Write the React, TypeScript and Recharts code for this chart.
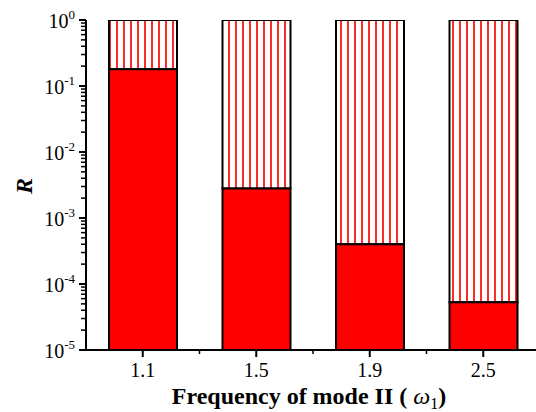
import React from "react";
import { Bar, BarChart, XAxis, YAxis, Label } from "recharts";

// frequency of mode II (omega_1)
const categories = ["1.1", "1.5", "1.9", "2.5"];
// R (top of the solid part)
const solidTop = [0.18, 0.0028, 0.0004, 0.000053];
const axisMin = 1e-5;
const axisMax = 1;
const decadeExponents = [-5, -4, -3, -2, -1, 0];
const minorMultipliers = [2, 3, 4, 5, 6, 7, 8, 9];

const data = categories.map((freq, i) => ({
  freq,
  solid: [axisMin, solidTop[i]],
  hatched: [solidTop[i], axisMax],
}));

const yTicks: number[] = [];
decadeExponents.forEach((e) => {
  yTicks.push(Math.pow(10, e));
  if (e < 0) minorMultipliers.forEach((m) => yTicks.push(m * Math.pow(10, e)));
});

const CHART_W = 536;
const CHART_H = 412;
const Y_AXIS_W = 86;
const MARGIN = { top: 20, right: -4, bottom: 0, left: 0 };
const AXIS_X = MARGIN.left + Y_AXIS_W;
const PLOT_W = CHART_W - Y_AXIS_W - MARGIN.left - MARGIN.right;
const BAND = PLOT_W / categories.length;
const X_TICK = 7;
const FONT = "'Liberation Serif', 'Times New Roman', serif";

const YTick = (props: any) => {
  const { y, payload } = props;
  const lg = Math.log10(payload.value);
  const exp = Math.round(lg);
  const major = Math.abs(lg - exp) < 1e-6;
  return (
    <g>
      <rect
        x={AXIS_X - (major ? 7 : 5)}
        y={y - (major ? 1 : 0.75)}
        width={major ? 7 : 5}
        height={major ? 2 : 1.5}
        fill="#000"
      />
      {major && (
        <text x={AXIS_X - 11} y={y + 8} textAnchor="end" fontFamily={FONT} fontSize={20} fill="#000">
          10
          <tspan fontSize={13} dy={-9}>{exp}</tspan>
        </text>
      )}
    </g>
  );
};

const XTick = (props: any) => {
  const { x, y, payload } = props;
  const i = categories.indexOf(payload.value);
  const axisY = y - X_TICK;
  return (
    <g>
      {i < categories.length - 1 && (
        <rect x={x + BAND / 2 - 0.75} y={axisY} width={1.5} height={4} fill="#000" />
      )}
      <text x={x} y={y + 20} textAnchor="middle" fontFamily={FONT} fontSize={20} fill="#000">
        {payload.value}
      </text>
    </g>
  );
};

export default function App() {
  return (
    <div style={{ position: "absolute", left: 0, top: 0, background: "#fff" }}>
      <BarChart width={CHART_W} height={CHART_H} data={data} margin={MARGIN} barSize={68} barGap={-68}>
        <defs>
          <pattern id="vhatch" width={7} height={10} patternUnits="userSpaceOnUse">
            <rect width={7} height={10} fill="#fff" />
            <rect x={4} width={2} height={10} fill="#ff2a2a" />
          </pattern>
        </defs>
        <XAxis
          dataKey="freq"
          height={62}
          tickSize={X_TICK}
          tickMargin={0}
          tickLine={{ stroke: "#000", strokeWidth: 2 }}
          tick={<XTick />}
          interval={0}
          axisLine={{ stroke: "#000", strokeWidth: 2 }}
        >
          <Label
            content={(p: any) => {
              const vb = p.viewBox;
              return (
                <text
                  x={vb.x + vb.width / 2 - 4}
                  y={vb.y + 54}
                  textAnchor="middle"
                  fontFamily={FONT}
                  fontWeight="bold"
                  fontSize={24}
                  fill="#000"
                >
                  Frequency of mode II (
                  <tspan fontStyle="italic" fontWeight="normal"> ω</tspan>
                  <tspan fontSize={16} dy={5} fontWeight="normal">1</tspan>
                  <tspan dy={-5}>)</tspan>
                </text>
              );
            }}
          />
        </XAxis>
        <YAxis
          type="number"
          scale="log"
          domain={[axisMin, axisMax]}
          allowDataOverflow
          ticks={yTicks}
          interval={0}
          minTickGap={0}
          width={Y_AXIS_W}
          tickSize={0}
          tickMargin={0}
          tickLine={false}
          tick={<YTick />}
          axisLine={{ stroke: "#000", strokeWidth: 2 }}
        >
          <Label
            content={() => (
              <text
                x={24}
                y={186}
                dy={8}
                transform="rotate(-90 24 186)"
                textAnchor="middle"
                fontFamily={FONT}
                fontStyle="italic"
                fontWeight="bold"
                fontSize={24}
                fill="#000"
              >
                R
              </text>
            )}
          />
        </YAxis>
        <Bar dataKey="hatched" fill="url(#vhatch)" stroke="#000" strokeWidth={2} isAnimationActive={false} />
        <Bar dataKey="solid" fill="#ff0000" stroke="#000" strokeWidth={2} isAnimationActive={false} />
      </BarChart>
    </div>
  );
}
